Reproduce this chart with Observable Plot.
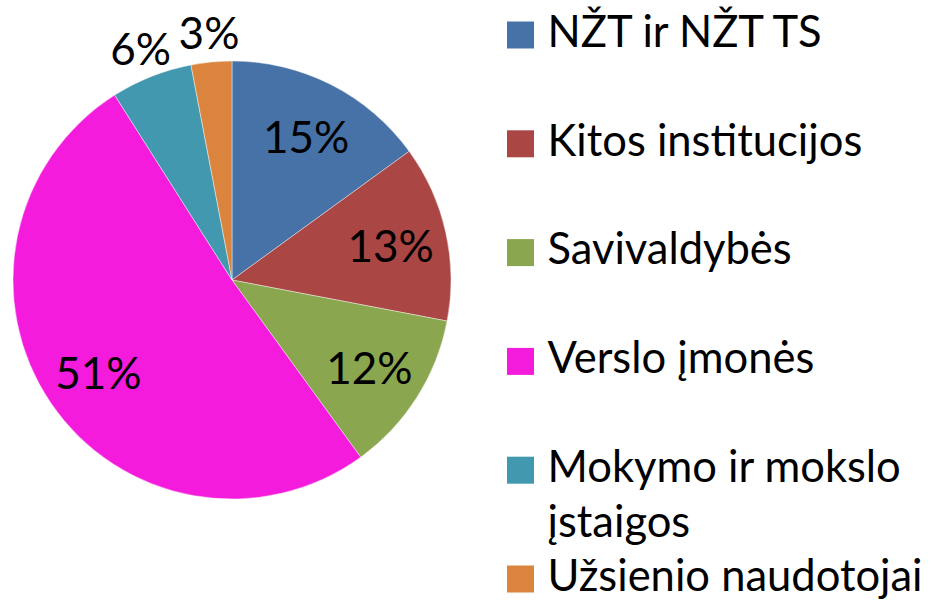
<!DOCTYPE html>
<html>
<head>
<meta charset="utf-8">
<script src="https://cdn.jsdelivr.net/npm/d3@7"></script>
<script src="https://cdn.jsdelivr.net/npm/@observablehq/plot@0.6"></script>
<style>
  html, body { margin: 0; padding: 0; background: #fff; }
  #chart { width: 937px; height: 600px; }
</style>
</head>
<body>
<div id="chart"></div>
<script>
// ---- data ----
const categories = ["NŽT ir NŽT TS", "Kitos institucijos", "Savivaldybės", "Verslo įmonės", "Mokymo ir mokslo įstaigos", "Užsienio naudotojai"];
const legendLabels = ["NŽT ir NŽT TS", "Kitos institucijos", "Savivaldybės", "Verslo įmonės", "Mokymo ir mokslo\nįstaigos", "Užsienio naudotojai"];
const shares = [15, 13, 12, 51, 6, 3];
const colors = ["#4672A8", "#AA4644", "#8AA64E", "#F41BDD", "#4198AF", "#DB843D"];

// ---- layout constants ----
const W = 937, H = 600;
const CX = 232, CY = 280, R = 219;
const LEG_X = 520, LEG_TEXT_X = 547, LEG_TOP = 21, LEG_STEP = 108.8, SQ = 27;

const table = categories.map((c, i) => ({category: c, share: shares[i], legend: legendLabels[i], i}));
const arcs = d3.pie().sort(null).value(d => d.share)(table);

const labels = arcs.map(a => {
  const mid = (a.startAngle + a.endAngle) / 2;
  const k = a.data.share < 10 ? 1.14 : 0.74;
  return {text: a.data.share + "%", x: CX + R * k * Math.sin(mid), y: CY - R * k * Math.cos(mid)};
});

function pieMark(index, scales) {
  const cx = scales.x(CX), cy = scales.y(CY), r = scales.x(CX + R) - cx;
  const arc = d3.arc().innerRadius(0).outerRadius(r);
  const g = d3.create("svg:g").attr("transform", `translate(${cx},${cy})`);
  g.selectAll("path").data(arcs).join("path")
    .attr("d", arc)
    .attr("fill", d => scales.color(d.data.category))
    .attr("stroke", "#ffffff")
    .attr("stroke-width", 0.6)
    .attr("stroke-opacity", 0.7);
  return g.node();
}

const plot = Plot.plot({
  width: W,
  height: H,
  margin: 0,
  x: {domain: [0, W], range: [0, W], axis: null},
  y: {domain: [0, H], range: [0, H], axis: null},
  color: {domain: categories, range: colors},
  style: {fontFamily: "Lato, 'Open Sans', sans-serif", background: "#fff", color: "#000"},
  marks: [
    pieMark,
    Plot.text(labels, {x: "x", y: "y", text: "text", fontSize: 44, fill: "#000", textAnchor: "middle", lineAnchor: "middle", dy: 3}),
    Plot.dot(table, {x: () => LEG_X, y: d => LEG_TOP + d.i * LEG_STEP + SQ / 2, fill: "category", symbol: "square", r: SQ / Math.sqrt(Math.PI), stroke: null}),
    Plot.text(table, {x: () => LEG_TEXT_X, y: d => LEG_TOP + d.i * LEG_STEP - 14, text: "legend", textAnchor: "start", lineAnchor: "top", lineHeight: 1.27, fontSize: 43.5, fill: "#000"})
  ]
});
document.getElementById("chart").appendChild(plot);
</script>
</body>
</html>
